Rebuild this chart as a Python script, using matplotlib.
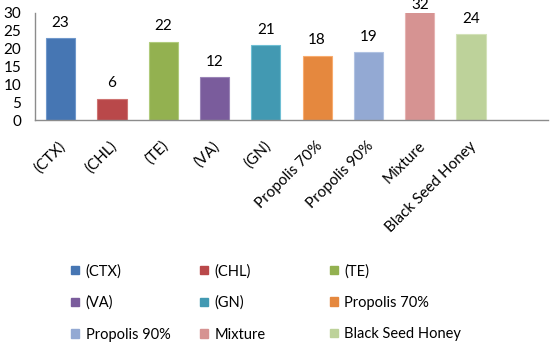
import matplotlib.pyplot as plt
from matplotlib.patches import Patch
from matplotlib.transforms import ScaledTranslation

plt.rcParams['font.family'] = ['Lato', 'DejaVu Sans']

# data
categories = ['(CTX)', '(CHL)', '(TE)', '(VA)', '(GN)', 'Propolis 70%',
              'Propolis 90%', 'Mixture', 'Black Seed Honey']
values = [23, 6, 22, 12, 21, 18, 19, 32, 24]
colors = ['#4676B3', '#B9484A', '#93B150', '#7A5C9C', '#4299B2', '#E5883E',
          '#93A9D3', '#D69392', '#BDD29A']
edges = ['#6F98CB', '#CE7472', '#B0CB7C', '#9A84B6', '#6FBFD4', '#F8AC6E',
         '#B0C2E2', '#E6B3B2', '#D3E2B9']

W, H = 551, 342
fig = plt.figure(figsize=(W / 100, H / 100), dpi=100)
ax = fig.add_axes([35 / W, 1 - 120 / H, 513 / W, 107 / H])

x = list(range(len(categories)))
bars = ax.bar(x, values, width=0.57, color=colors, edgecolor=edges, linewidth=0.8)

ymax = 30
ax.set_ylim(0, ymax)
ax.set_xlim(-0.5, 9.5)
ax.set_yticks(range(0, 31, 5))
ax.tick_params(axis='y', length=0, pad=10, labelsize=11)
ax.tick_params(axis='x', length=0, pad=17)
ax.set_xticks(x)
ax.set_xticklabels(categories, rotation=45, ha='right', va='center',
                   rotation_mode='anchor', fontsize=11)
shift = ScaledTranslation(3 / 100, 0, fig.dpi_scale_trans)
for lbl in ax.get_xticklabels():
    lbl.set_transform(lbl.get_transform() + shift)

for s in ['top', 'right']:
    ax.spines[s].set_visible(False)
for s in ['left', 'bottom']:
    ax.spines[s].set_color('#8C8C8C')
    ax.spines[s].set_linewidth(1.0)

# value labels (the Mixture bar runs past the axis top, its label sits at the top)
for xi, v in zip(x, values):
    off = 6 if v <= ymax else 1
    ax.annotate(str(v), (xi, min(v, ymax)), xytext=(0, off), textcoords='offset points',
                ha='center', va='bottom', fontsize=11, annotation_clip=False)

# legend, three columns filled row by row
handles = [Patch(facecolor=c, edgecolor=c) for c in colors]
col_x = [68, 197, 327]
for j in range(3):
    idx = [j, j + 3, j + 6]
    fig.legend([handles[i] for i in idx], [categories[i] for i in idx],
               loc='upper left', bbox_to_anchor=(col_x[j] / W, 1 - 261 / H),
               frameon=False, fontsize=10.5, handlelength=0.55, handleheight=0.55,
               handletextpad=0.45, labelspacing=1.2, borderaxespad=0,
               borderpad=0.2)

fig.savefig('out.png', dpi=100)
